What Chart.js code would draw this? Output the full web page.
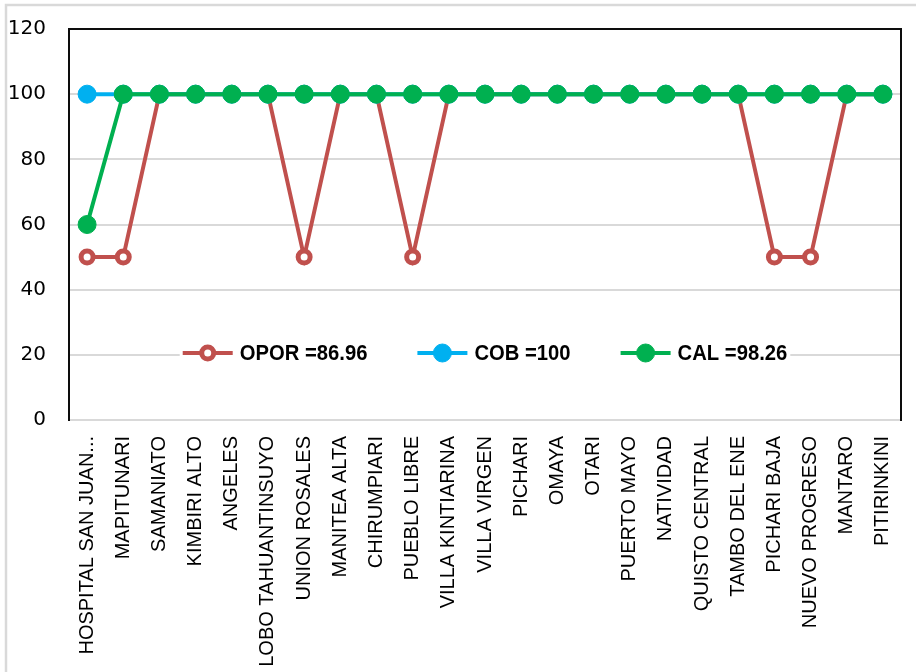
<!DOCTYPE html>
<html>
<head>
<meta charset="utf-8">
<script src="https://cdn.jsdelivr.net/npm/chart.js@4.4.1/dist/chart.umd.min.js"></script>
<style>
  html, body { margin: 0; padding: 0; background: #ffffff; }
  #wrap { position: relative; width: 916px; height: 672px; overflow: hidden; }
  canvas { display: block; }
</style>
</head>
<body>
<div id="wrap"><canvas id="chart" width="916" height="672"></canvas></div>
<script>
// Health facilities (x-axis categories)
const establecimientos = [
  "HOSPITAL SAN JUAN...", "MAPITUNARI", "SAMANIATO", "KIMBIRI ALTO", "ANGELES",
  "LOBO TAHUANTINSUYO", "UNION ROSALES", "MANITEA ALTA", "CHIRUMPIARI", "PUEBLO LIBRE",
  "VILLA KINTIARINA", "VILLA VIRGEN", "PICHARI", "OMAYA", "OTARI", "PUERTO MAYO",
  "NATIVIDAD", "QUISTO CENTRAL", "TAMBO DEL ENE", "PICHARI BAJA", "NUEVO PROGRESO",
  "MANTARO", "PITIRINKINI"
];

// Indicator values per facility (%)
const oportunidad = [50, 50, 100, 100, 100, 100, 50, 100, 100, 50, 100, 100,
                     100, 100, 100, 100, 100, 100, 100, 50, 50, 100, 100];
const cobertura   = [100, 100, 100, 100, 100, 100, 100, 100, 100, 100, 100, 100,
                     100, 100, 100, 100, 100, 100, 100, 100, 100, 100, 100];
const calidad     = [60, 100, 100, 100, 100, 100, 100, 100, 100, 100, 100, 100,
                     100, 100, 100, 100, 100, 100, 100, 100, 100, 100, 100];

const serieNombres = ["OPOR", "COB", "CAL"];
const yTicks = [0, 20, 40, 60, 80, 100, 120];

const promedio = arr => arr.reduce((a, b) => a + b, 0) / arr.length;
const fmt = v => String(Number(v.toFixed(2)));

// Page frame and white background
const framePlugin = {
  id: 'frame',
  beforeDraw(chart) {
    const ctx = chart.ctx;
    ctx.save();
    ctx.fillStyle = '#ffffff';
    ctx.fillRect(0, 0, chart.width, chart.height);
    ctx.strokeStyle = '#d9d9d9';
    ctx.lineWidth = 2.5;
    ctx.strokeRect(6, 5, chart.width + 20, chart.height + 20);
    ctx.restore();
  }
};

// Dark border on top and right of the plot area
const plotBorderPlugin = {
  id: 'plotBorder',
  beforeDatasetsDraw(chart) {
    const { ctx, chartArea: a } = chart;
    ctx.save();
    ctx.strokeStyle = '#0d0d0d';
    ctx.lineWidth = 2;
    ctx.beginPath();
    ctx.moveTo(a.left, a.top);
    ctx.lineTo(a.right, a.top);
    ctx.lineTo(a.right, a.bottom + 1);
    ctx.stroke();
    ctx.restore();
  }
};

// Legend drawn inside the plot area: line sample + marker + text
const inlineLegendPlugin = {
  id: 'inlineLegend',
  afterDatasetsDraw(chart) {
    const { ctx, chartArea: a } = chart;
    const cy = a.bottom - 67;
    const lineLen = 50, gapText = 7, gapItem = 50, squeeze = 0.92;
    ctx.save();
    ctx.font = 'bold 22px "Liberation Sans", Arial, sans-serif';
    ctx.textBaseline = 'middle';
    const items = chart.data.datasets.map(ds => {
      const text = ds.label + ' =' + fmt(promedio(ds.data));
      return { ds, text, w: ctx.measureText(text).width * squeeze };
    });
    let total = 0;
    items.forEach((it, i) => {
      total += lineLen + gapText + it.w + (i < items.length - 1 ? gapItem : 0);
    });
    let x = (a.left + a.right) / 2 - total / 2;
    ctx.fillStyle = '#ffffff';
    ctx.fillRect(x - 3, cy - 15, total + 6, 30);
    items.forEach(it => {
      const ds = it.ds;
      ctx.strokeStyle = ds.borderColor;
      ctx.lineWidth = ds.borderWidth;
      ctx.beginPath();
      ctx.moveTo(x, cy);
      ctx.lineTo(x + lineLen, cy);
      ctx.stroke();
      ctx.beginPath();
      ctx.arc(x + lineLen / 2, cy, ds.pointRadius, 0, Math.PI * 2);
      ctx.fillStyle = ds.pointBackgroundColor;
      ctx.fill();
      ctx.lineWidth = ds.pointBorderWidth;
      ctx.strokeStyle = ds.pointBorderColor;
      ctx.stroke();
      ctx.save();
      ctx.translate(x + lineLen + gapText, cy + 1);
      ctx.scale(squeeze, 1);
      ctx.fillStyle = '#000000';
      ctx.fillText(it.text, 0, 0);
      ctx.restore();
      x += lineLen + gapText + it.w + gapItem;
    });
    ctx.restore();
  }
};

const chart = new Chart(document.getElementById('chart'), {
  type: 'line',
  data: {
    labels: establecimientos,
    datasets: [
      {
        label: serieNombres[0], data: oportunidad, order: 3,
        borderColor: '#c0504d', borderWidth: 4,
        pointRadius: 6, pointBackgroundColor: '#ffffff',
        pointBorderColor: '#c0504d', pointBorderWidth: 5
      },
      {
        label: serieNombres[1], data: cobertura, order: 2,
        borderColor: '#00b0f0', borderWidth: 4,
        pointRadius: 9, pointBackgroundColor: '#00b0f0',
        pointBorderColor: '#00b0f0', pointBorderWidth: 1
      },
      {
        label: serieNombres[2], data: calidad, order: 1,
        borderColor: '#00b050', borderWidth: 4,
        pointRadius: 9, pointBackgroundColor: '#00b050',
        pointBorderColor: '#00b050', pointBorderWidth: 1
      }
    ]
  },
  options: {
    responsive: false,
    animation: false,
    devicePixelRatio: 1,
    layout: { autoPadding: false, padding: { left: 0, top: 29, right: 15, bottom: 0 } },
    plugins: { legend: { display: false }, tooltip: { enabled: false }, title: { display: false } },
    elements: { line: { tension: 0 } },
    scales: {
      x: {
        type: 'category',
        offset: true,
        grid: { display: false, drawTicks: false },
        border: { display: true, color: '#d9d9d9', width: 2 },
        ticks: {
          autoSkip: false, maxRotation: 90, minRotation: 90, padding: 16,
          color: '#000000',
          font: { family: '"Liberation Sans", Arial, sans-serif', size: 20 }
        },
        afterFit(scale) {
          scale.height = 252;
          scale.paddingLeft = 0; scale.paddingRight = 0;
        }
      },
      y: {
        min: 0, max: 120,
        afterBuildTicks(scale) { scale.ticks = yTicks.map(v => ({ value: v })); },
        grid: { color: '#d9d9d9', lineWidth: 2, drawTicks: false },
        border: { display: true, color: '#0d0d0d', width: 2 },
        ticks: {
          padding: 23, color: '#000000',
          font: { family: '"DejaVu Sans", sans-serif', size: 20 }
        },
        afterFit(scale) {
          scale.width = 69;
          scale.paddingTop = 0; scale.paddingBottom = 0;
        }
      }
    }
  },
  plugins: [framePlugin, plotBorderPlugin, inlineLegendPlugin]
});
</script>
</body>
</html>
